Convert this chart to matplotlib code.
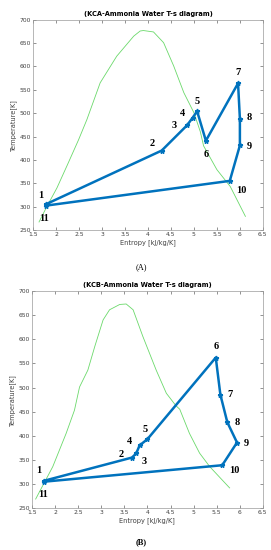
import matplotlib
matplotlib.use("Agg")
import matplotlib.pyplot as plt

# KCA cycle state points (entropy kJ/kg/K, temperature K)
kca_s = [1.78, 4.30, 4.85, 4.97, 5.07, 5.26, 5.96, 6.00, 6.00, 5.78, 1.78]
kca_t = [305, 420, 474, 490, 504, 441, 564, 488, 431, 355, 302]
kca_labels = ["1", "2", "3", "4", "5", "6", "7", "8", "9", "10", "11"]

# KCA saturation dome
kca_dome_s = [1.63, 1.80, 2.02, 2.25, 2.49, 2.67, 2.96, 3.32, 3.69, 3.83, 3.90,
              4.12, 4.34, 4.56, 4.78, 5.00, 5.14, 5.21, 5.50, 5.79, 6.12]
kca_dome_t = [267, 300, 340, 390, 443, 486, 565, 622, 665, 676, 677,
              674, 651, 601, 544, 501, 460, 430, 379, 343, 279]

# KCB cycle state points
kcb_s = [1.77, 3.67, 3.76, 3.83, 4.00, 5.48, 5.58, 5.73, 5.94, 5.62, 1.77]
kcb_t = [307, 355, 364, 380, 393, 562, 485, 428, 386, 339, 305]
kcb_labels = ["1", "2", "3", "4", "5", "6", "7", "8", "9", "10", "11"]

# KCB saturation dome
kcb_dome_s = [1.58, 1.95, 2.24, 2.42, 2.53, 2.71, 2.86, 3.04, 3.18, 3.40, 3.54,
              3.69, 3.90, 4.19, 4.41, 4.62, 4.70, 4.91, 5.13, 5.35, 5.78]
kcb_dome_t = [269, 336, 405, 453, 501, 536, 585, 640, 661, 672, 673,
              661, 606, 536, 488, 462, 455, 405, 364, 336, 292]

# label offsets in points (dx, dy)
kca_offsets = [(-4, 6), (-7, 5), (-9, 0), (-7, 3), (0, 7), (0, -10), (0, 8), (7, 1), (7, -1), (8, -7), (-1, -9)]
kcb_offsets = [(-4, 7), (-8, 2), (6, -6), (-7, 3), (-2, 7), (0, 8), (7, 0), (7, 0), (7, -1), (9, -4), (-1, -9)]

blue = "#0072BD"
green = "#6bd96b"

fig = plt.figure(figsize=(2.71, 5.5), dpi=100)
ax1 = fig.add_axes([0.122, 0.582, 0.848, 0.382])
ax2 = fig.add_axes([0.118, 0.076, 0.852, 0.395])


def draw(ax, s, t, labels, offsets, ds, dt, title):
    ax.plot(ds, dt, color=green, linewidth=0.6)
    ax.plot(s, t, color=blue, linewidth=1.8, marker="*", markersize=3.5)
    for x, y, lab, off in zip(s, t, labels, offsets):
        ax.annotate(lab, (x, y), xytext=off, textcoords="offset points",
                    ha="center", va="center", fontsize=7.5, fontweight="bold",
                    family="Liberation Serif")
    ax.set_xlim(1.5, 6.5)
    ax.set_ylim(250, 700)
    ax.set_xticks([1.5, 2, 2.5, 3, 3.5, 4, 4.5, 5, 5.5, 6, 6.5])
    ax.set_xticklabels(["1.5", "2", "2.5", "3", "3.5", "4", "4.5", "5", "5.5", "6", "6.5"])
    ax.set_yticks(range(250, 701, 50))
    ax.tick_params(labelsize=4.3, colors="#404040", length=2, width=0.4, pad=1.5)
    ax.tick_params(top=True, right=True, direction="in")
    for sp in ax.spines.values():
        sp.set_color("#9a9a9a")
        sp.set_linewidth(0.5)
    ax.set_xlabel("Entropy [kJ/kg/K]", fontsize=4.8, color="#404040", labelpad=1.5)
    ax.set_ylabel("Temperature[K]", fontsize=4.8, color="#404040", labelpad=1.5)
    ax.set_title(title, fontsize=4.8, fontweight="bold", pad=3)


draw(ax1, kca_s, kca_t, kca_labels, kca_offsets, kca_dome_s, kca_dome_t,
     "(KCA-Ammonia Water T-s diagram)")
draw(ax2, kcb_s, kcb_t, kcb_labels, kcb_offsets, kcb_dome_s, kcb_dome_t,
     "(KCB-Ammonia Water T-s diagram)")

fig.text(0.52, 1 - 267 / 550, "(A)", ha="center", va="center", fontsize=6,
         family="Liberation Serif")
fig.text(0.52, 1 - 542 / 550, "(B)", ha="center", va="center", fontsize=6,
         fontweight="bold", family="Liberation Serif")

fig.savefig("out.png", dpi=100)
